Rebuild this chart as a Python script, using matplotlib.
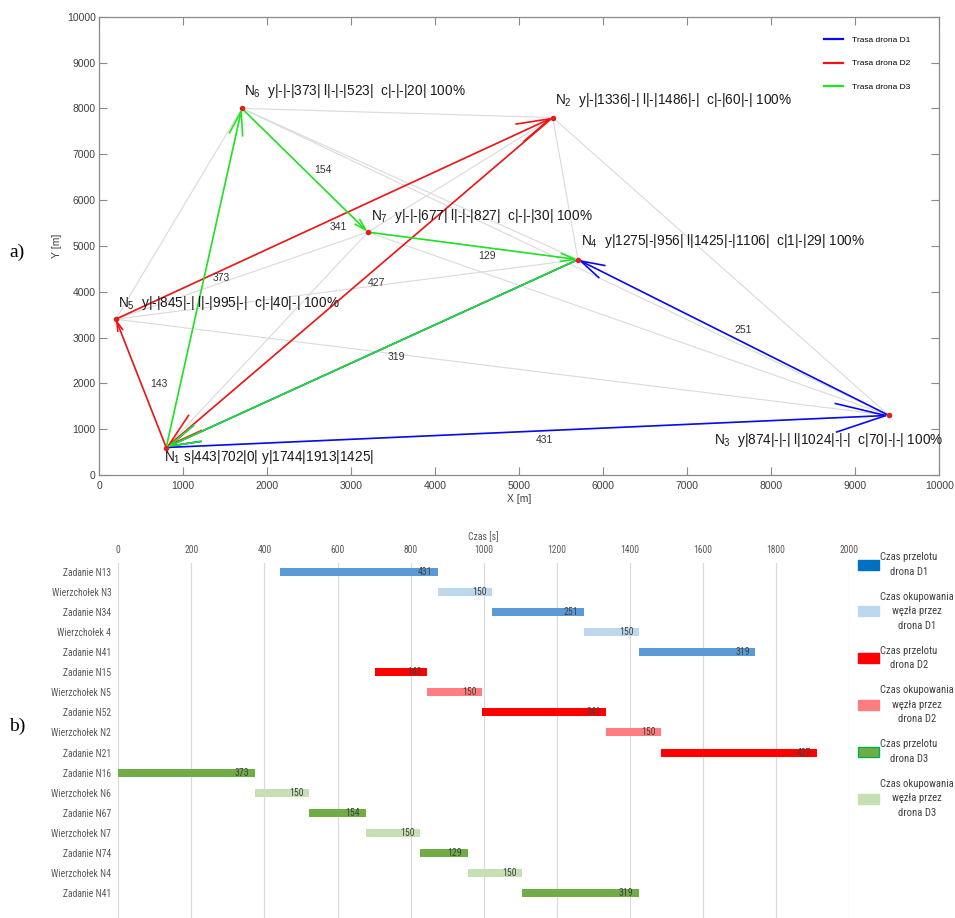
import itertools
import numpy as np
import matplotlib
matplotlib.use("Agg")
import matplotlib.pyplot as plt
from matplotlib.patches import FancyArrowPatch, Patch
from matplotlib.lines import Line2D
from matplotlib import font_manager
from matplotlib.font_manager import FontProperties

# ---------------- network (part a) ----------------
node_names = ["N1", "N2", "N3", "N4", "N5", "N6", "N7"]
node_x = [800, 5400, 9400, 5700, 200, 1700, 3200]
node_y = [600, 7800, 1300, 4700, 3400, 8000, 5300]
node_info = [
    "s|443|702|0| y|1744|1913|1425|",
    "y|-|1336|-| l|-|1486|-|  c|-|60|-| 100%",
    "y|874|-|-| l|1024|-|-|  c|70|-|-| 100%",
    "y|1275|-|956| l|1425|-|1106|  c|1|-|29| 100%",
    "y|-|845|-| l|-|995|-|  c|-|40|-| 100%",
    "y|-|-|373| l|-|-|523|  c|-|-|20| 100%",
    "y|-|-|677| l|-|-|827|  c|-|-|30| 100%",
]

route_names = ["Trasa drona D1", "Trasa drona D2", "Trasa drona D3"]
route_d1 = [1, 3, 4, 1]
route_d2 = [1, 5, 2, 1]
route_d3 = [1, 6, 7, 4, 1]
routes = [route_d1, route_d2, route_d3]
route_colors = ["#0a0af0", "#f01414", "#22e322"]

edge_pairs = [(1, 3), (3, 4), (4, 1), (1, 5), (5, 2), (2, 1), (1, 6), (6, 7), (7, 4)]
edge_times = [431, 251, 319, 143, 341, 427, 373, 154, 129]
edge_label_xy = [(5300, 760), (7670, 3160), (3540, 2570), (710, 1980), (2850, 5420),
                 (3300, 4200), (1460, 4290), (2660, 6650), (4620, 4780)]

# label offsets of node captions, in pixels (dx, dy)
node_label_offset_px = [(-2.4, -13.4), (2.4, 13.3), (-175, -28.3), (3, 15),
                        (2.6, 12.6), (2.6, 13.3), (3.3, 12.3)]

# ---------------- schedule (part b) ----------------
gantt_tasks = ["Zadanie N13", "Wierzchołek N3", "Zadanie N34", "Wierzchołek 4", "Zadanie N41",
               "Zadanie N15", "Wierzchołek N5", "Zadanie N52", "Wierzchołek N2", "Zadanie N21",
               "Zadanie N16", "Wierzchołek N6", "Zadanie N67", "Wierzchołek N7", "Zadanie N74",
               "Wierzchołek N4", "Zadanie N41"]
gantt_start = [443, 874, 1024, 1275, 1425,
               702, 845, 995, 1336, 1486,
               0, 373, 523, 677, 827, 956, 1106]
gantt_dur = [431, 150, 251, 150, 319,
             143, 150, 341, 150, 427,
             373, 150, 154, 150, 129, 150, 319]
gantt_kind = [0, 1, 0, 1, 0,
              2, 3, 2, 3, 2,
              4, 5, 4, 5, 4, 5, 4]
kind_colors = ["#5b9bd5", "#bdd7ee", "#ff0000", "#ff7c80", "#70ad47", "#c5e0b4"]
legend_labels = ["Czas przelotu\ndrona D1", "Czas okupowania\nwęzła przez\ndrona D1",
                 "Czas przelotu\ndrona D2", "Czas okupowania\nwęzła przez\ndrona D2",
                 "Czas przelotu\ndrona D3", "Czas okupowania\nwęzła przez\ndrona D3"]
legend_face = ["#0070c0", "#bdd7ee", "#ff0000", "#ff7c80", "#70ad47", "#c5e0b4"]
legend_edge = ["#0070c0", "#bdd7ee", "#ff0000", "#ff7c80", "#00b050", "#c5e0b4"]


# ---------------- fonts ----------------
def narrow_font_file():
    """Pick a regular-weight condensed sans face if one is installed."""
    skip = ("bold", "italic", "oblique", "light", "medium", "thin", "black",
            "semi", "extra", "heavy")
    prefs = ["liberationsansnarrow", "robotocondensed", "opensanscondensed",
             "notosans-condensed", "dejavusanscondensed"]
    files = [f.fname for f in font_manager.fontManager.ttflist]
    for key in prefs:
        for fn in files:
            base = fn.rsplit("/", 1)[-1].lower()
            if base.replace("_", "").replace(" ", "").startswith(key) or \
               base.replace("-", "").startswith(key.replace("-", "")):
                rest = base[len(key):]
                if not any(s in rest for s in skip):
                    return fn
    return None


nfile = narrow_font_file()
def nprop(size):
    if nfile:
        return FontProperties(fname=nfile, size=size)
    return FontProperties(family="Liberation Sans", size=size * 0.85)


plt.rcParams["font.family"] = ["Liberation Sans", "DejaVu Sans"]
plt.rcParams["mathtext.fontset"] = "custom"
plt.rcParams["mathtext.rm"] = "Liberation Sans"
plt.rcParams["mathtext.it"] = "Liberation Sans:italic"
plt.rcParams["mathtext.bf"] = "Liberation Sans:bold"

W, H = 955, 918
fig = plt.figure(figsize=(W / 100, H / 100), dpi=100)

# ================= part a =================
ax1 = fig.add_axes([99 / W, (H - 475) / H, 840.3 / W, 458.3 / H])
ax1.set_xlim(0, 10000)
ax1.set_ylim(0, 10000)
ax1.set_xticks(range(0, 10001, 1000))
ax1.set_yticks(range(0, 10001, 1000))
ax1.tick_params(direction="in", length=5.8, width=0.8, color="#8a8a8a",
                top=True, right=True, labelsize=7.5, labelcolor="#404040")
ax1.tick_params(axis="x", pad=4.5)
ax1.tick_params(axis="y", pad=2.4)
for sp in ax1.spines.values():
    sp.set_color("#8a8a8a")
    sp.set_linewidth(0.9)
ax1.set_xlabel("X [m]", fontsize=7.5, color="#404040", labelpad=2)
ax1.set_ylabel("Y [m]", fontsize=7.5, color="#404040", labelpad=3.5)

# all connections between nodes
for i, j in itertools.combinations(range(len(node_names)), 2):
    ax1.plot([node_x[i], node_x[j]], [node_y[i], node_y[j]], color="#dadada", lw=0.8, zorder=1)

fig.canvas.draw()


def arrow(p, q, color):
    d0 = ax1.transData.transform(p)
    d1 = ax1.transData.transform(q)
    L = np.hypot(*(d1 - d0)) * 72 / 100
    style = f"->,head_length={0.07 * L:.2f},head_width={0.02 * L:.2f}"
    ax1.add_patch(FancyArrowPatch(p, q, arrowstyle=style, mutation_scale=1,
                                  shrinkA=0, shrinkB=0, color=color, lw=1.2,
                                  zorder=3, joinstyle="miter", capstyle="butt"))


for route, color in zip(routes, route_colors):
    for a, b in zip(route[:-1], route[1:]):
        arrow((node_x[a - 1], node_y[a - 1]), (node_x[b - 1], node_y[b - 1]), color)

for t, (lx, ly) in zip(edge_times, edge_label_xy):
    ax1.text(lx, ly, str(t), fontsize=7.5, color="#333333", ha="center", va="center", zorder=4)

ax1.plot(node_x, node_y, "o", color="#e02020", ms=3, zorder=5)

for name, x, y, info, (dx, dy) in zip(node_names, node_x, node_y, node_info, node_label_offset_px):
    sep = " " if name == "N1" else "  "
    ax1.annotate(f"N$_{{{name[1:]}}}$" + sep + info, xy=(x, y),
                 xytext=(dx * 0.72, dy * 0.72), textcoords="offset points",
                 ha="left", va="baseline", fontsize=9.8, color="#1a1a1a", zorder=6)

handles = [Line2D([], [], color=c, lw=1.6) for c in route_colors]
ax1.legend(handles, route_names, loc="upper left", bbox_to_anchor=(824 / W, 1 - 36 / H),
           bbox_transform=fig.transFigure, frameon=False, fontsize=6,
           handlelength=2.3, handletextpad=1.0, labelspacing=1.9,
           borderpad=0, borderaxespad=0)

# ================= part b =================
ax2 = fig.add_axes([118.3 / W, 0, (849 - 118.3) / W, 355 / H])
ax2.set_xlim(0, 2000)
ax2.set_ylim(17.25, -0.45)
ax2.set_xticks(range(0, 2001, 200))
ax2.xaxis.tick_top()
ax2.xaxis.set_label_position("top")
ax2.tick_params(axis="x", length=0, pad=6, labelcolor="#595959")
ax2.tick_params(axis="y", length=0, pad=5, labelcolor="#595959")
ax2.set_yticks(range(len(gantt_tasks)))
ax2.set_yticklabels(gantt_tasks)
for lab in ax2.get_xticklabels() + ax2.get_yticklabels():
    lab.set_fontproperties(nprop(6.9))
ax2.set_xlabel("Czas [s]", color="#595959", labelpad=3, fontproperties=nprop(7))
ax2.grid(axis="x", color="#d9d9d9", lw=0.8)
ax2.set_axisbelow(True)
for sp in ax2.spines.values():
    sp.set_visible(False)

colors = [kind_colors[k] for k in gantt_kind]
ax2.barh(range(len(gantt_tasks)), gantt_dur, left=gantt_start, height=0.4, color=colors, zorder=2)
for i, (s, d) in enumerate(zip(gantt_start, gantt_dur)):
    ax2.annotate(str(d), xy=(s + d, i), xytext=(-4, 0), textcoords="offset points",
                 ha="right", va="center", color="#404040", fontproperties=nprop(7), zorder=3)

patches = [Patch(facecolor=f, edgecolor=e, lw=1.0) for f, e in zip(legend_face, legend_edge)]
leg = fig.legend(patches, legend_labels, loc="upper left", bbox_to_anchor=(858 / W, 1 - 552 / H),
                 frameon=False, prop=nprop(7.7), handlelength=2.0, handleheight=1.05,
                 handletextpad=0.1, labelspacing=1.4, borderpad=0, borderaxespad=0)
for t in leg.get_texts():
    t.set_multialignment("center")
    t.set_color("#404040")
    t.set_linespacing(1.57)

# panel letters
fig.text(9 / W, 1 - 252 / H, "a)", fontsize=14, family="Liberation Serif", va="center", ha="left")
fig.text(9 / W, 1 - 726 / H, "b)", fontsize=14, family="Liberation Serif", va="center", ha="left")

fig.savefig("out.png", dpi=100)
